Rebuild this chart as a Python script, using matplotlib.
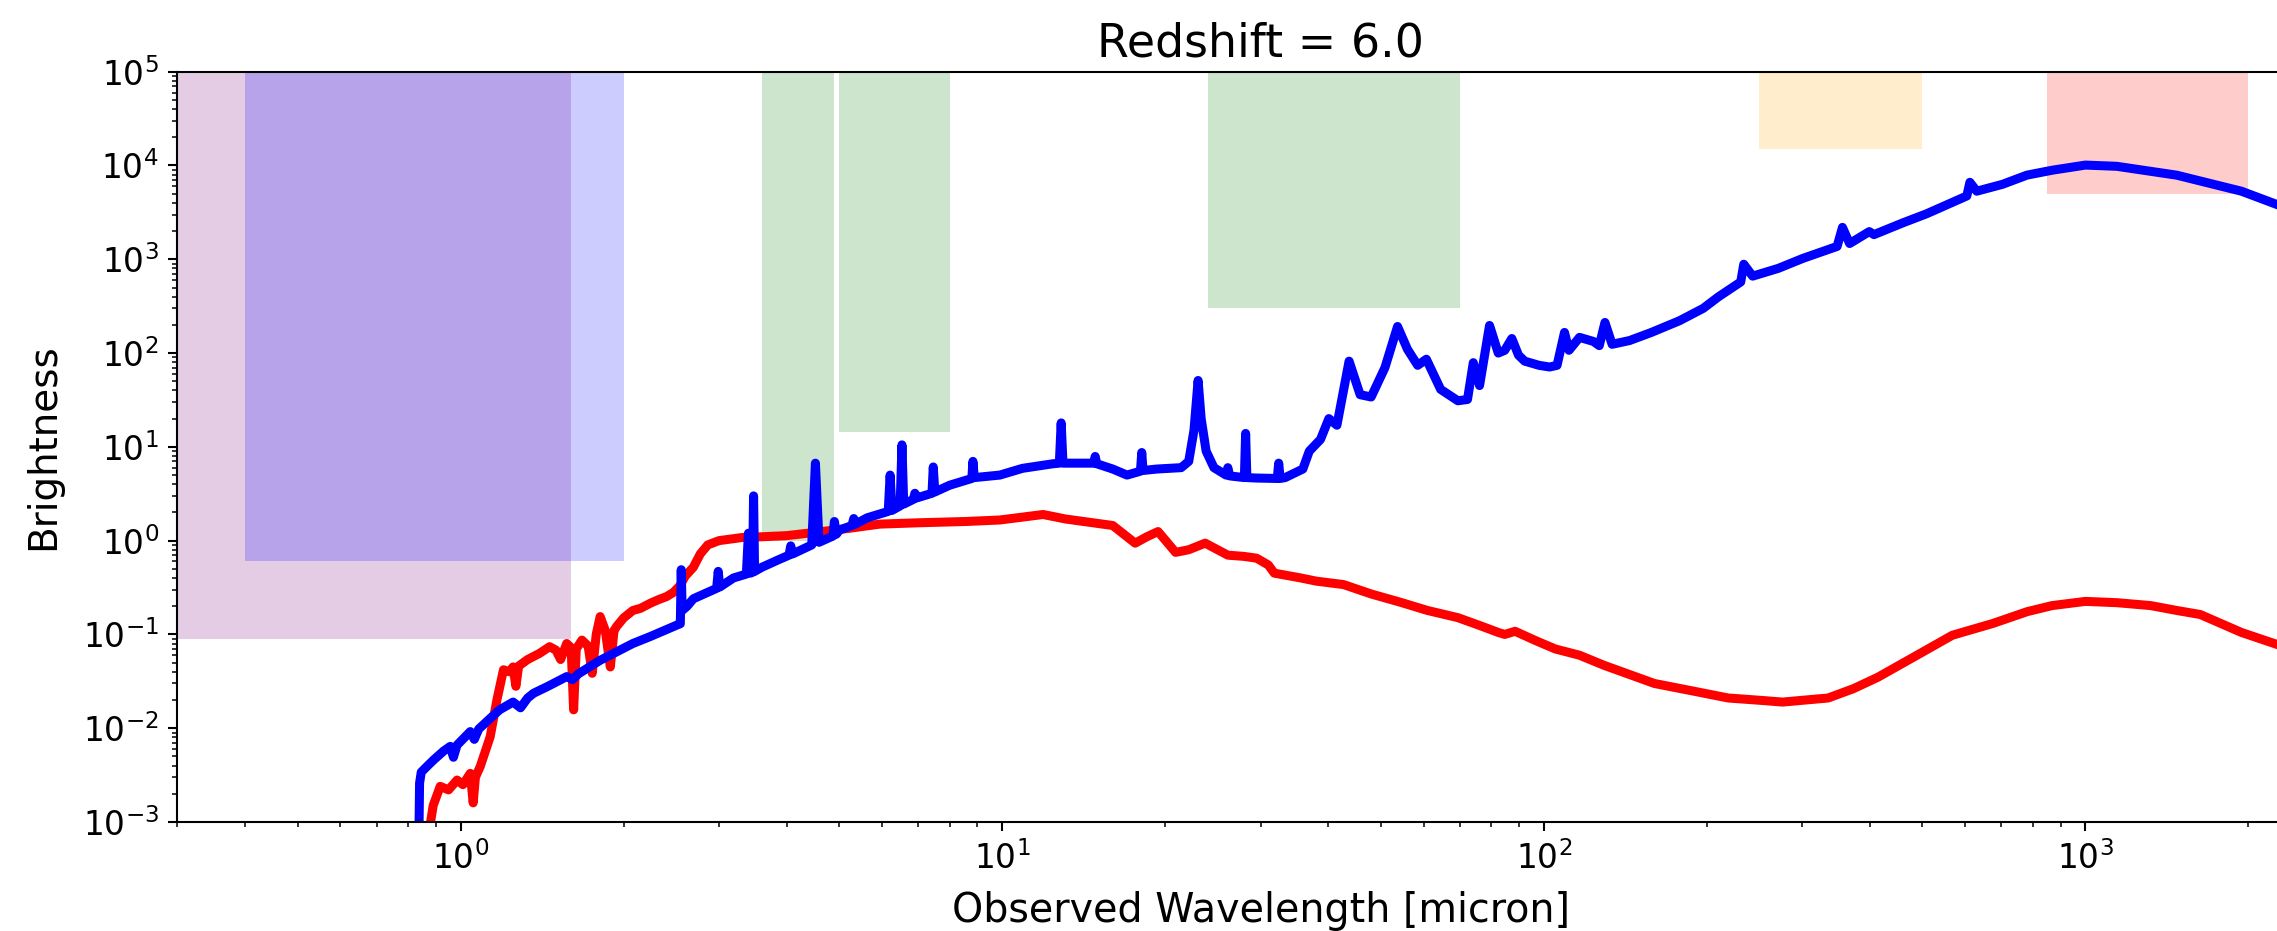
import matplotlib
matplotlib.use("Agg")
import matplotlib.pyplot as plt

# ---- data ----
blue_wl = [0.836, 0.840, 0.846, 0.87, 0.892, 0.93, 0.957, 0.97, 0.985, 1.042, 1.06, 1.08,
           1.18, 1.25, 1.29, 1.33, 1.364, 1.45, 1.57, 1.61, 1.65, 1.81, 2.08, 2.24, 2.51,
           2.545, 2.555, 2.565, 2.62, 2.69, 2.97, 2.99, 3.01, 3.19, 3.37, 3.40, 3.43, 3.46,
           3.475, 3.49, 3.6, 3.85, 4.04, 4.07, 4.10, 4.45, 4.52, 4.59, 4.87, 4.90, 4.94,
           5.01, 5.28, 5.32, 5.36, 5.63, 6.16, 6.21, 6.26, 6.48, 6.53, 6.58, 6.85, 6.9,
           6.95, 7.42, 7.46, 7.51, 8.0, 8.79, 8.83, 8.88, 9.9, 10.9, 12.4, 12.75, 12.85,
           12.95, 14.75, 14.85, 14.95, 16.0, 17.0, 18.0, 18.1, 18.2, 19.3, 21.4, 22.1,
           22.6, 23.0, 23.3, 23.8, 24.6, 25.9, 26.1, 26.3, 28.0, 28.15, 28.3, 29.5, 32.2,
           32.4, 32.6, 33.3, 35.9, 36.9, 38.7, 40.1, 41.5, 43.7, 45.8, 48.0, 50.9, 53.7,
           56.0, 58.5, 60.7, 64.5, 69.4, 72.3, 74.1, 76.1, 79.4, 82.4, 84.7, 87.3, 89.8,
           92.2, 98.0, 102.5, 105.8, 109.2, 111.3, 116.4, 123.5, 126.6, 129.7, 133.7,
           144, 158, 178, 197, 210, 231, 234, 243, 271, 301, 348, 356, 367, 399, 407, 461,
           509, 604, 612, 630, 703, 780, 868, 1000, 1143, 1475, 1941, 2340, 3000]
blue_fl = [3e-4, 2.6e-3, 3.4e-3, 4.0e-3, 4.6e-3, 5.7e-3, 6.4e-3, 4.9e-3, 6.6e-3, 9.2e-3,
           7.6e-3, 9.8e-3, 0.0157, 0.019, 0.0165, 0.021, 0.0236, 0.028, 0.0355, 0.033,
           0.038, 0.053, 0.080, 0.095, 0.126, 0.13, 0.49, 0.18, 0.20, 0.24, 0.31, 0.47,
           0.32, 0.40, 0.44, 1.2, 0.45, 0.46, 3.0, 0.47, 0.52, 0.62, 0.70, 0.88, 0.72,
           0.90, 6.7, 0.96, 1.12, 1.6, 1.17, 1.30, 1.45, 1.72, 1.5, 1.75, 2.05, 5.0, 2.1,
           2.35, 10.5, 2.45, 2.75, 3.2, 2.85, 3.2, 6.1, 3.3, 3.9, 4.6, 7.0, 4.7, 5.0, 5.9,
           6.6, 6.7, 18.0, 6.7, 6.7, 7.9, 6.6, 5.8, 5.0, 5.5, 8.7, 5.6, 5.8, 6.0, 7.0,
           15, 51, 20, 9, 6.0, 5.0, 6.0, 4.9, 4.7, 13.9, 4.7, 4.65, 4.6, 6.7, 4.6, 4.7,
           5.8, 9.0, 12, 20, 17, 82, 36, 34, 70, 192, 110, 74, 86, 41, 31, 32, 79, 45,
           197, 100, 107, 143, 95, 82, 74, 71, 74, 166, 107, 147, 133, 120, 212, 124,
           136, 166, 221, 300, 397, 573, 885, 661, 800, 1023, 1371, 2188, 1472, 1972,
           1832, 2455, 3055, 4732, 6620, 5320, 6300, 7890, 8900, 10100, 9800, 7880, 5320,
           3550, 2200]

red_wl = [0.875, 0.89, 0.917, 0.95, 0.985, 1.01, 1.042, 1.055, 1.065, 1.087, 1.134, 1.167,
          1.20, 1.23, 1.25, 1.265, 1.28, 1.33, 1.40, 1.46, 1.50, 1.53, 1.57, 1.60, 1.617,
          1.635, 1.675, 1.72, 1.75, 1.78, 1.81, 1.85, 1.89, 1.92, 1.94, 2.0, 2.08, 2.15,
          2.24, 2.32, 2.40, 2.47, 2.54, 2.60, 2.69, 2.77, 2.86, 3.0, 3.31, 3.6, 4.0, 4.65,
          5.2, 5.94, 7.0, 8.57, 9.9, 11.9, 13.1, 16.0, 17.6, 18.5, 19.4, 20.9, 22.1, 23.7,
          26.1, 27.9, 29.5, 31.0, 31.8, 35.6, 38, 42.7, 48, 54.4, 61, 69.4, 76, 82.4,
          84.7, 88.5, 97, 105, 116.4, 129, 160, 188, 219, 255, 276, 335, 373, 414, 481,
          568, 675, 781, 868, 1000, 1143, 1320, 1475, 1630, 1941, 2340, 3000]
red_fl = [8e-4, 1.5e-3, 2.4e-3, 2.2e-3, 2.8e-3, 2.5e-3, 3.3e-3, 1.6e-3, 3.0e-3, 3.9e-3,
          8.1e-3, 0.020, 0.042, 0.040, 0.045, 0.028, 0.046, 0.054, 0.063, 0.074, 0.068,
          0.054, 0.080, 0.072, 0.0157, 0.07, 0.087, 0.075, 0.0385, 0.10, 0.155, 0.11,
          0.045, 0.11, 0.121, 0.15, 0.18, 0.19, 0.215, 0.235, 0.253, 0.28, 0.33, 0.42,
          0.52, 0.72, 0.90, 1.0, 1.08, 1.10, 1.13, 1.25, 1.35, 1.5, 1.55, 1.6, 1.66, 1.9,
          1.7, 1.45, 0.94, 1.1, 1.25, 0.75, 0.80, 0.94, 0.70, 0.68, 0.65, 0.55, 0.45,
          0.40, 0.37, 0.34, 0.27, 0.22, 0.18, 0.151, 0.125, 0.105, 0.10, 0.108, 0.085,
          0.07, 0.06, 0.047, 0.030, 0.025, 0.021, 0.0197, 0.019, 0.021, 0.0264, 0.035,
          0.057, 0.098, 0.131, 0.175, 0.203, 0.225, 0.218, 0.203, 0.18, 0.163, 0.105,
          0.073, 0.04]

# shaded instrument windows: (wl_min, wl_max, brightness_min, colour)
box_wl_min = [0.1, 0.4, 3.6, 5.0, 24, 250, 850]
box_wl_max = [1.6, 2.0, 4.9, 8.0, 70, 500, 2000]
box_fl_min = [0.09, 0.6, 1.0, 14.5, 300, 1.5e4, 5000]
box_colors = ['purple', 'blue', 'green', 'green', 'green', 'orange', 'red']
box_top = 1e5

title = "Redshift = 6.0"
xlabel = "Observed Wavelength [micron]"
ylabel = "Brightness"

# ---- figure ----
W, H = 2277, 931
fig = plt.figure(figsize=(W / 100, H / 100), dpi=100)
left = 177.4 / W
bottom = 1 - 822 / H
height = (822 - 71.7) / H
width = (2343.8 - 177.4) / W
ax = fig.add_axes([left, bottom, width, height])

for x0, x1, y0, c in zip(box_wl_min, box_wl_max, box_fl_min, box_colors):
    ax.fill_between([x0, x1], [y0, y0], [box_top, box_top], color=c, alpha=0.2,
                    linewidth=0)

ax.plot(red_wl, red_fl, color='red', lw=6.5)
ax.plot(blue_wl, blue_fl, color='blue', lw=6.5)

ax.set_xscale('log')
ax.set_yscale('log')
ax.set_xlim(0.3, 3000)
ax.set_ylim(1e-3, 1e5)

ax.set_title(title, fontsize=33, pad=11)
ax.set_xlabel(xlabel, fontsize=28.5, labelpad=11)
ax.set_ylabel(ylabel, fontsize=28, labelpad=15)
ax.tick_params(which='major', labelsize=23.6, length=6.5, width=1.5, pad=7)
ax.tick_params(which='minor', length=3.7, width=1.1)
for s in ax.spines.values():
    s.set_linewidth(1.5)

fig.savefig("out.png", dpi=100)
